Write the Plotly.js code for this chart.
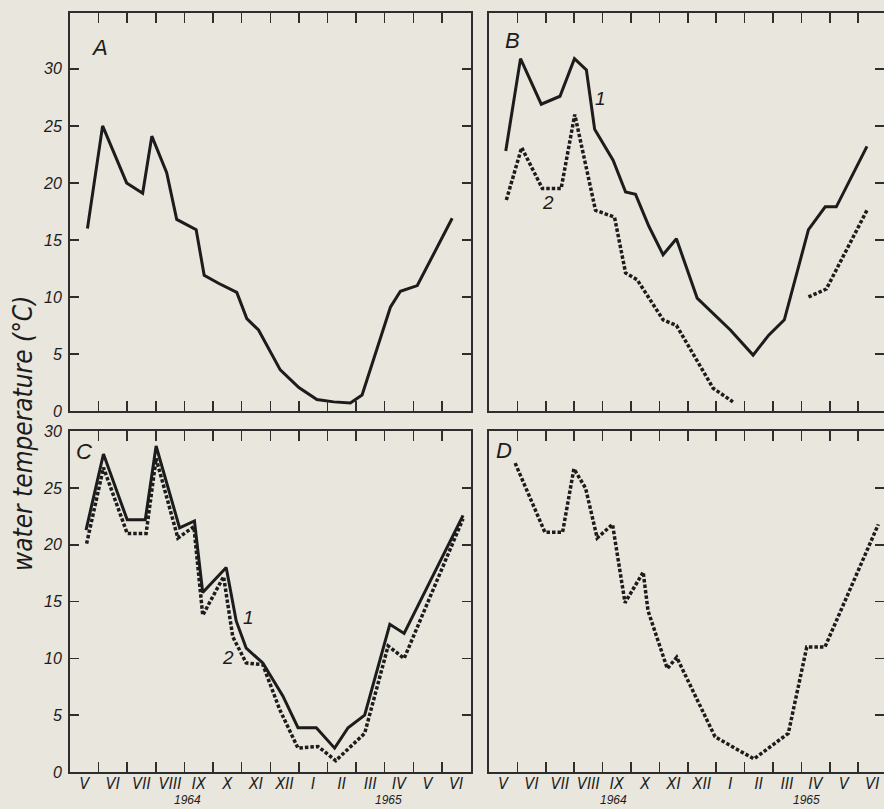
<!DOCTYPE html>
<html><head><meta charset="utf-8">
<script src="https://cdn.plot.ly/plotly-3.0.1.min.js"></script>
<style>html,body{margin:0;padding:0;background:#e8e6dd;}</style>
</head><body><div id="chart" style="width:884px;height:809px;"></div>
<script>
// ---- data ----
const monthLabels = ['V','VI','VII','VIII','IX','X','XI','XII','I','II','III','IV','V','VI'];
const monthCenters = [0.5,1.5,2.5,3.5,4.5,5.5,6.5,7.5,8.5,9.5,10.5,11.5,12.5,13.5];
const monthBounds = [1,2,3,4,5,6,7,8,9,10,11,12,13];
const yTicks = [0,5,10,15,20,25,30];
const yearLabels = ['1964','1965'];

// Panel A (single series, solid)
const aX = [0.61,1.14,1.98,2.54,2.86,3.38,3.73,4.41,4.69,5.19,5.83,6.18,6.59,7.35,8.0,8.63,9.22,9.8,10.21,11.2,11.55,12.14,13.36];
const aY = [16,25,20,19.1,24.1,20.9,16.8,15.9,11.9,11.2,10.4,8.1,7.1,3.6,2.05,1.0,0.8,0.7,1.4,9.1,10.5,11.0,16.9];

// Panel B series 1 (solid) and 2 (dotted, gap in winter)
const b1X = [0.59,1.11,1.84,2.5,3.01,3.43,3.72,4.37,4.81,5.16,5.63,6.13,6.6,7.33,8.5,9.3,9.85,10.4,11.25,11.84,12.23,13.31];
const b1Y = [22.8,30.9,26.9,27.6,30.9,29.9,24.7,22.0,19.2,19.0,16.2,13.7,15.1,9.9,7.1,4.9,6.65,8.0,15.9,17.9,17.9,23.2];
const b2X = [0.61,1.15,1.88,2.54,3.02,3.75,4.42,4.81,5.22,6.13,6.6,7.12,7.89,8.59,null,11.25,11.88,13.31];
const b2Y = [18.5,23.1,19.5,19.5,26.0,17.6,17.0,12.1,11.5,8.0,7.5,5.3,2.0,0.8,null,10.0,10.7,17.6];

// Panel C series 1 (solid) and 2 (dotted)
const c1X = [0.56,1.17,2.0,2.63,3.01,3.83,4.35,4.64,5.46,5.81,6.16,6.74,7.44,7.97,8.61,9.25,9.72,10.3,11.18,11.68,13.74];
const c1Y = [21.3,28.0,22.2,22.2,28.7,21.5,22.1,15.8,18.0,13.3,10.9,9.6,6.7,3.9,3.9,2.1,3.9,5.0,13.0,12.2,22.6];
const c2X = [0.58,1.17,2.0,2.66,3.01,3.77,4.33,4.64,5.37,5.69,6.16,6.74,7.33,7.97,8.67,9.29,10.3,11.12,11.68,13.74];
const c2Y = [20.1,26.8,21.0,21.0,27.6,20.6,21.6,13.8,17.2,11.9,9.6,9.45,5.5,2.1,2.25,1.0,3.4,11.1,10.0,22.3];

// Panel D (dotted)
const dX = [0.92,1.97,2.59,2.99,3.4,3.81,4.35,4.79,5.43,5.6,6.28,6.61,7.96,9.33,10.54,11.19,11.83,13.71];
const dY = [27.2,21.1,21.1,26.7,25.0,20.6,21.8,14.9,17.6,14.2,9.1,10.1,3.1,1.15,3.4,11.0,11.0,21.8];

// ---- styling ----
const W = 884, H = 809;
const fx = p => p / W;
const fy = p => 1 - p / H;
const INK = '#1c1c1c';
const AX = '#2e2e2e';
const FONT = '"Liberation Sans Narrow","DejaVu Sans Condensed","Liberation Sans",Arial,sans-serif';
const FONT2 = '"Liberation Sans","DejaVu Sans",Arial,sans-serif';

const solid = {color: INK, width: 3};
const dotted = {color: INK, width: 3.5, dash: '3.5px,2px'};

const traces = [
  {x: aX, y: aY, xaxis: 'x', yaxis: 'y', mode: 'lines', line: solid},
  {x: b1X, y: b1Y, xaxis: 'x2', yaxis: 'y2', mode: 'lines', line: solid},
  {x: b2X, y: b2Y, xaxis: 'x2', yaxis: 'y2', mode: 'lines', line: dotted, connectgaps: false},
  {x: c1X, y: c1Y, xaxis: 'x3', yaxis: 'y3', mode: 'lines', line: solid},
  {x: c2X, y: c2Y, xaxis: 'x3', yaxis: 'y3', mode: 'lines', line: dotted},
  {x: dX, y: dY, xaxis: 'x4', yaxis: 'y4', mode: 'lines', line: dotted},
  // carriers for the month-label axes (no visible marks)
  {x: [], y: [], xaxis: 'x5', yaxis: 'y3', mode: 'lines', hoverinfo: 'skip'},
  {x: [], y: [], xaxis: 'x6', yaxis: 'y4', mode: 'lines', hoverinfo: 'skip'}
];

function xAx(domain, range, anchor) {
  return {domain, range, anchor, tickvals: monthBounds, ticktext: monthBounds.map(() => ''),
    ticks: 'inside', ticklen: 10, tickwidth: 1.5, tickcolor: AX, mirror: 'ticks',
    showline: true, linewidth: 2, linecolor: AX, showgrid: false, zeroline: false, fixedrange: true};
}
function yAx(domain, range, anchor, labelled) {
  const o = {domain, range, anchor, tickvals: yTicks, ticks: 'inside', ticklen: 9, tickwidth: 1.5,
    tickcolor: AX, showline: true, linewidth: 2, linecolor: AX, showgrid: false, zeroline: false,
    fixedrange: true, tickfont: {family: FONT2, size: 16, color: INK, style: 'italic'}, ticklabelstandoff: 3};
  if (labelled) { o.mirror = 'ticks'; o.side = 'left'; }
  else { o.mirror = true; o.side = 'right'; o.showticklabels = false; }
  return o;
}
function labelAx(overlay, anchor, range) {
  return {overlaying: overlay, anchor, range, side: 'bottom', tickvals: monthCenters, ticktext: monthLabels,
    ticks: '', showline: false, showgrid: false, zeroline: false, fixedrange: true,
    tickfont: {family: FONT, size: 16, color: INK, style: 'italic'}, ticklabelstandoff: 0};
}

const xL = [fx(70), fx(470.5)], xR = [fx(489), 1];
const yT = [fy(411), fy(13)], yB = [fy(772), fy(430.7)];
const rL = [0, 14], rR = [0, 13.91];

function ann(text, x, y, size, fam, extra) {
  return Object.assign({text, x: fx(x), y: fy(y), xref: 'paper', yref: 'paper', showarrow: false,
    xanchor: 'center', yanchor: 'middle', font: {family: fam || FONT2, size, color: INK, style: 'italic'}}, extra || {});
}

const annotations = [
  ann('A', 99, 48, 22),
  ann('B', 512, 40, 22),
  ann('C', 84, 452, 22),
  ann('D', 504, 450, 22),
  ann('1', 600, 99, 19),
  ann('2', 548, 203, 19),
  ann('1', 248, 617, 19),
  ann('2', 228, 657, 19),
  ann(yearLabels[0], 187, 800, 12, FONT2, {borderpad: 0}),
  ann(yearLabels[1], 388, 800, 12, FONT2, {borderpad: 0}),
  ann(yearLabels[0], 613, 800, 12, FONT2, {borderpad: 0}),
  ann(yearLabels[1], 806, 800, 12, FONT2, {borderpad: 0}),
  ann('water temperature (°C)', 23, 434, 26, FONT, {textangle: -90})
];

const layout = {
  width: W, height: H, margin: {l: 0, r: 0, t: 0, b: 0},
  paper_bgcolor: '#e8e6dd', plot_bgcolor: '#e8e6dd', showlegend: false,
  xaxis: xAx(xL, rL, 'y'), yaxis: yAx(yT, [0, 34.9], 'x', true),
  xaxis2: xAx(xR, rR, 'y2'), yaxis2: yAx(yT, [0, 34.9], 'x2', false),
  xaxis3: xAx(xL, rL, 'y3'), yaxis3: yAx(yB, [0, 30.05], 'x3', true),
  xaxis4: xAx(xR, rR, 'y4'), yaxis4: yAx(yB, [0, 30.05], 'x4', false),
  xaxis5: labelAx('x3', 'y3', rL),
  xaxis6: labelAx('x4', 'y4', rR),
  annotations
};

Plotly.newPlot('chart', traces, layout, {staticPlot: true, displayModeBar: false});
</script></body></html>
